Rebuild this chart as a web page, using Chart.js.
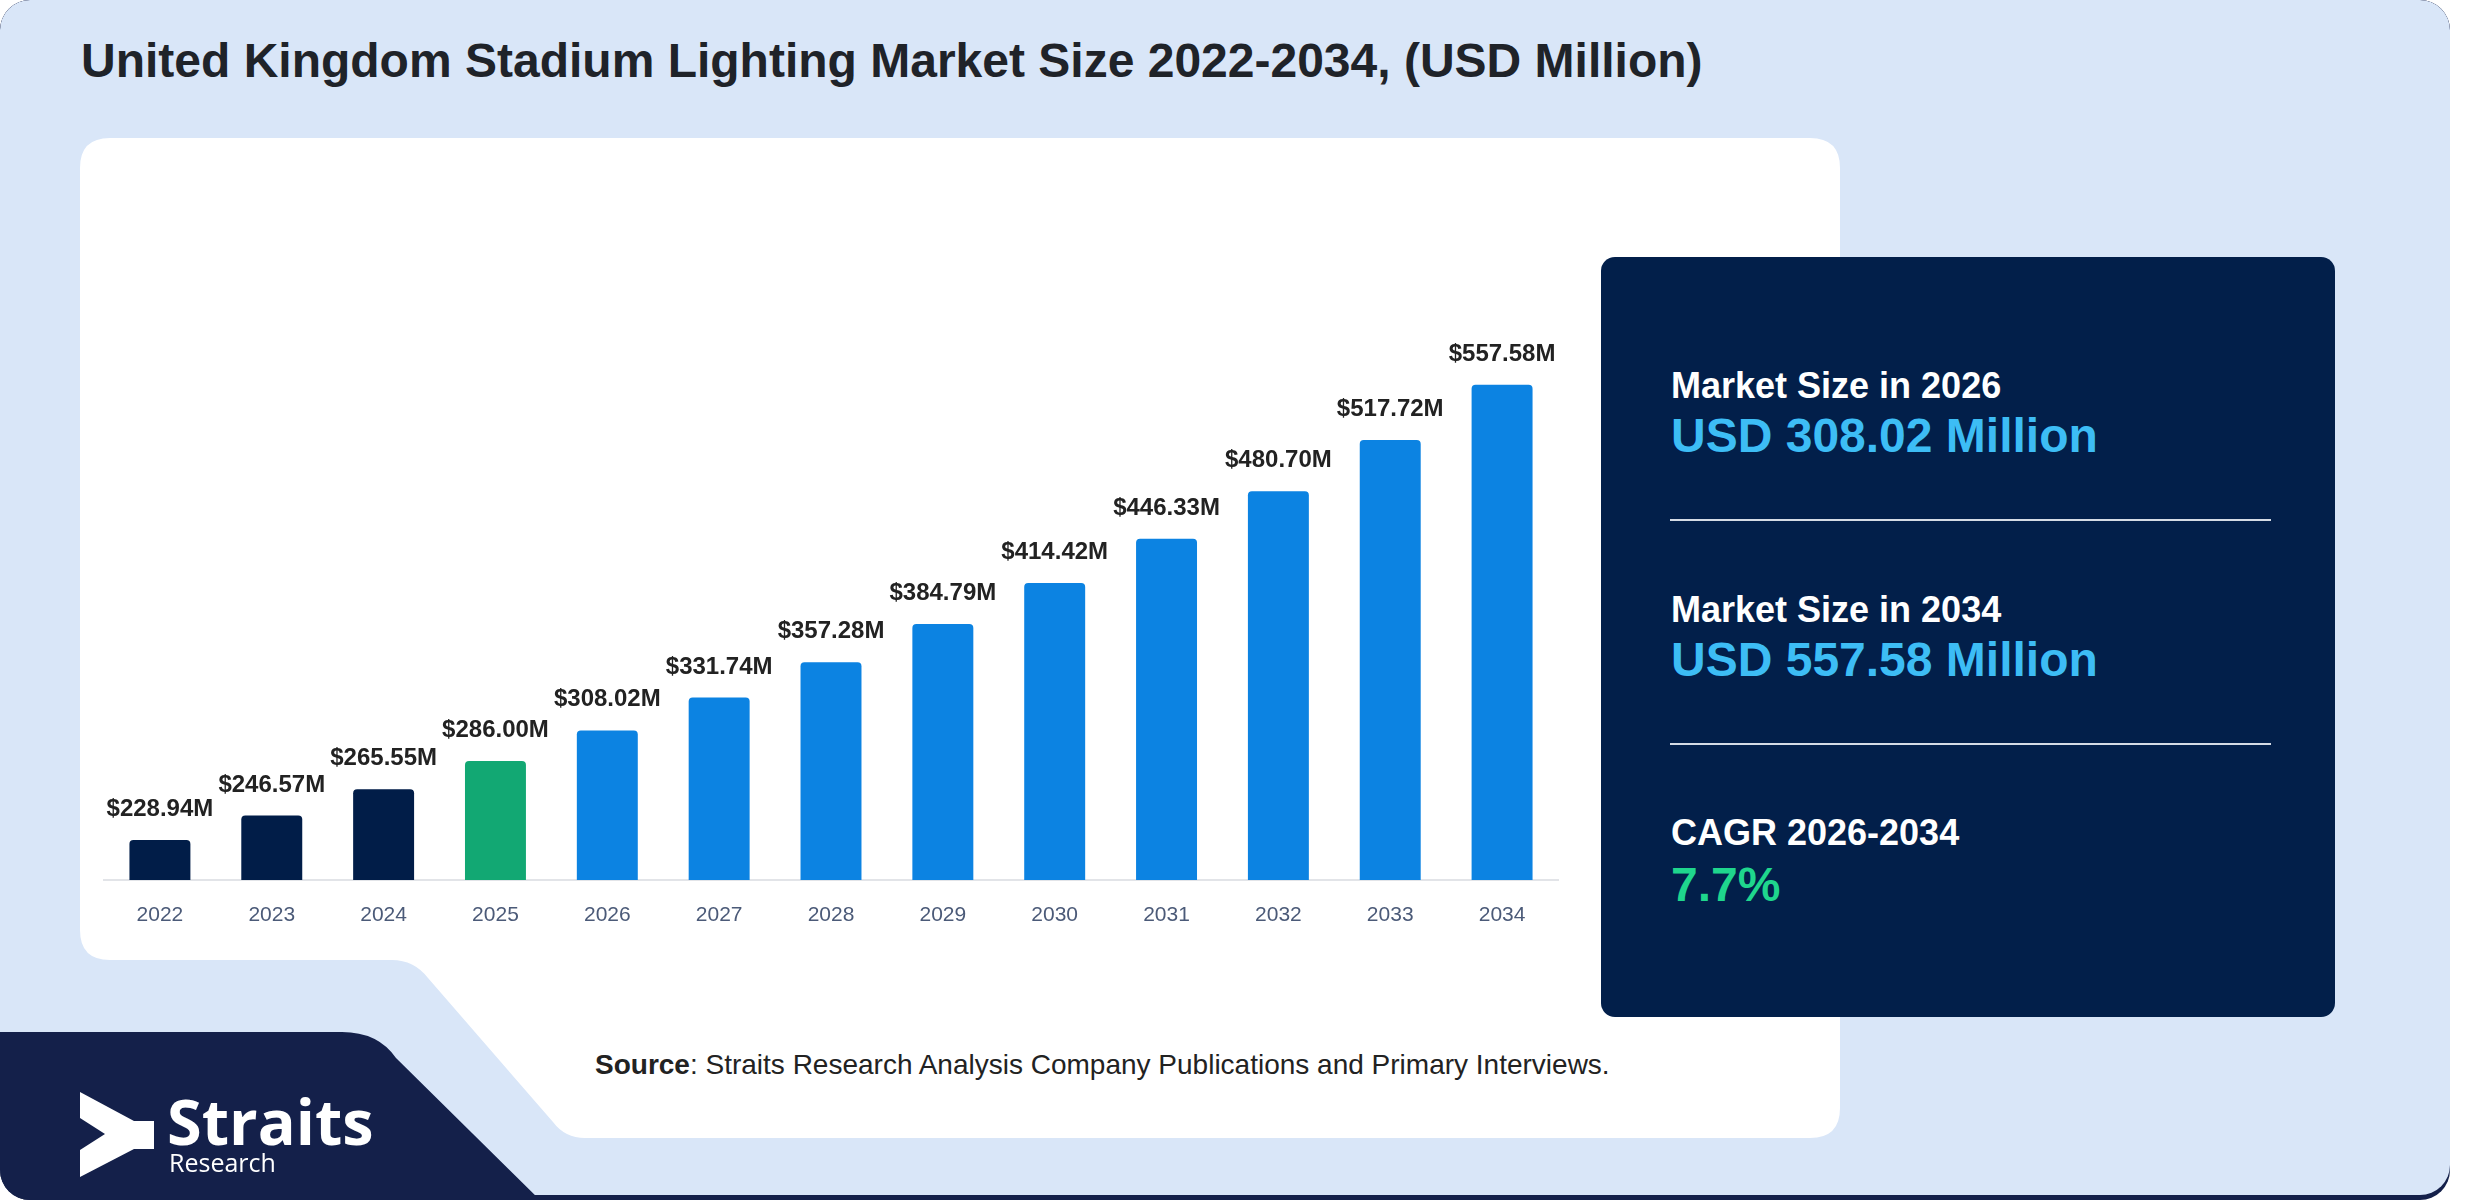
<!DOCTYPE html>
<html>
<head>
<meta charset="utf-8">
<script src="https://cdn.jsdelivr.net/npm/chart.js@4.4.1/dist/chart.umd.min.js"></script>
<style>
  html, body { margin: 0; padding: 0; background: #ffffff; }
  body { width: 2480px; height: 1200px; position: relative; overflow: hidden; font-family: "Liberation Sans", Arial, sans-serif; }
  .abs { position: absolute; white-space: nowrap; line-height: 1; }
  #bg { position: absolute; left: 0; top: 0; }
  #title { left: 81px; top: 37px; font-size: 48px; font-weight: bold; color: #1f2329; }
  #panel { position: absolute; left: 1601px; top: 257px; width: 734px; height: 760px; background: #021f4a; border-radius: 14px; }
  .plabel { left: 1671px; font-size: 36px; font-weight: bold; color: #ffffff; }
  .pvalue { left: 1671px; font-size: 48px; font-weight: bold; color: #3dbdf5; }
  .pgreen { color: #1fd68d; }
  .divider { position: absolute; left: 1670px; width: 601px; height: 2px; background: #d5dbe5; }
  #source { left: 595px; top: 1051px; font-size: 28px; color: #222222; }
  #logo1 { left: 167px; top: 1089px; font-family: "Open Sans", sans-serif; font-weight: 700; font-size: 63px; color: #ffffff; }
  #logo2 { left: 169px; top: 1150px; font-family: "Open Sans", sans-serif; font-weight: 400; font-size: 25px; color: #ffffff; }
  #chartWrap { position: absolute; left: 80px; top: 300px; width: 1520px; height: 640px; }
</style>
</head>
<body>
<svg id="bg" width="2480" height="1200" viewBox="0 0 2480 1200">
  <defs>
    <clipPath id="bgclip"><rect x="0" y="0" width="2450" height="1200" rx="30" ry="30"/></clipPath>
  </defs>
  <g clip-path="url(#bgclip)">
    <rect x="0" y="0" width="2450" height="1200" fill="#14204a"/>
    <rect x="0" y="0" width="2450" height="1195" rx="30" ry="30" fill="#d9e6f8"/>
    <path d="M0,1032 L342,1032 Q378,1032 396,1058 L545,1205 L0,1205 Z" fill="#14204a"/>
  </g>
  <path d="M110,138 L1810,138 Q1840,138 1840,168 L1840,1108 Q1840,1138 1810,1138 L585,1138 Q565,1138 553,1122 L428,978 Q414,960 392,960 L110,960 Q80,960 80,930 L80,168 Q80,138 110,138 Z" fill="#ffffff"/>
</svg>

<div id="title" class="abs">United Kingdom Stadium Lighting Market Size 2022-2034, (USD Million)</div>

<div id="chartWrap"><canvas id="chart" width="1520" height="640"></canvas></div>

<div id="panel"></div>
<div class="abs plabel" style="top:368px">Market Size in 2026</div>
<div class="abs pvalue" style="top:412px">USD 308.02 Million</div>
<div class="divider" style="top:519px"></div>
<div class="abs plabel" style="top:592px">Market Size in 2034</div>
<div class="abs pvalue" style="top:636px">USD 557.58 Million</div>
<div class="divider" style="top:743px"></div>
<div class="abs plabel" style="top:815px">CAGR 2026-2034</div>
<div class="abs pvalue pgreen" style="top:861px">7.7%</div>

<div id="source" class="abs"><b>Source</b>: Straits Research Analysis Company Publications and Primary Interviews.</div>

<svg style="position:absolute;left:0;top:0" width="300" height="1200" viewBox="0 0 300 1200">
  <path d="M80,1092 L134,1121 L154,1121 L154,1149 L134,1149 L80,1177 L80,1150 L105,1134 L80,1118 Z" fill="#ffffff"/>
</svg>
<div id="logo1" class="abs">Straits</div>
<div id="logo2" class="abs">Research</div>

<script>
// ---- data ----
const years = ['2022','2023','2024','2025','2026','2027','2028','2029','2030','2031','2032','2033','2034'];
const marketSize = [228.94, 246.57, 265.55, 286.00, 308.02, 331.74, 357.28, 384.79, 414.42, 446.33, 480.70, 517.72, 557.58];
const periods = ['historic','historic','historic','base','forecast','forecast','forecast','forecast','forecast','forecast','forecast','forecast','forecast'];

const periodColors = { historic: '#011d48', base: '#12a873', forecast: '#0c83e2' };

const valueLabels = {
  id: 'valueLabels',
  afterDatasetsDraw(chart) {
    const ctx = chart.ctx;
    const meta = chart.getDatasetMeta(0);
    ctx.save();
    ctx.font = 'bold 24px "Liberation Sans", Arial, sans-serif';
    ctx.fillStyle = '#222222';
    ctx.textAlign = 'center';
    ctx.textBaseline = 'alphabetic';
    meta.data.forEach((bar, i) => {
      ctx.fillText('$' + marketSize[i].toFixed(2) + 'M', bar.x, bar.y - 24);
    });
    ctx.restore();
  }
};

new Chart(document.getElementById('chart'), {
  type: 'bar',
  data: {
    labels: years,
    datasets: [{
      data: marketSize,
      backgroundColor: periods.map(p => periodColors[p]),
      borderRadius: 4,
      barPercentage: 0.545,
      categoryPercentage: 1.0
    }]
  },
  options: {
    responsive: false,
    animation: false,
    devicePixelRatio: 1,
    layout: { padding: { left: 24, right: 42, top: 26, bottom: 0 } },
    plugins: { legend: { display: false }, tooltip: { enabled: false } },
    scales: {
      x: {
        grid: { display: true, drawOnChartArea: false, drawTicks: false, color: 'rgba(0,0,0,0)' },
        border: { display: true, color: '#e2e4e8', width: 2 },
        ticks: { color: '#4b5a78', font: { size: 21, family: '"Liberation Sans", Arial, sans-serif' }, padding: 23 },
        afterFit(scale) { scale.height = 60; }
      },
      y: {
        display: false,
        min: 200,
        max: 600
      }
    }
  },
  plugins: [valueLabels]
});
</script>
</body>
</html>
